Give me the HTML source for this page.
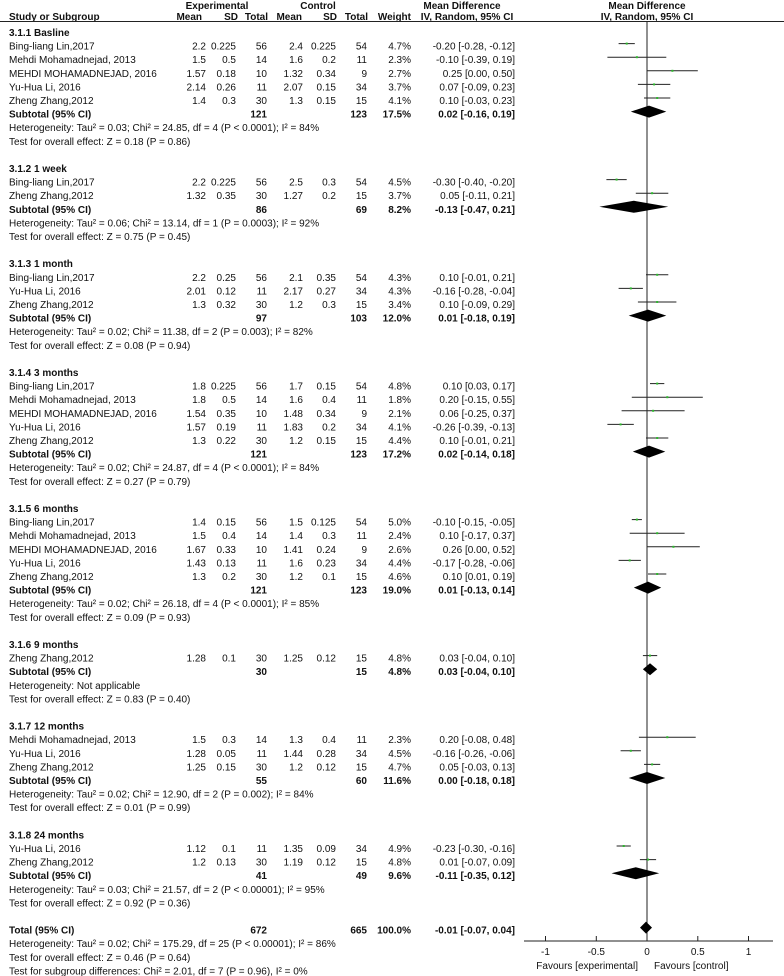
<!DOCTYPE html>
<html><head><meta charset="utf-8"><style>
html,body{margin:0;padding:0;background:#fff;}
svg{display:block;font-family:"Liberation Sans",Arial,sans-serif;font-size:10px;fill:#111;}
.r{text-anchor:end}.c{text-anchor:middle}.b{font-weight:bold}
line{stroke:#222;stroke-width:1}
.g{fill:#2db82d}
</style></head><body>
<svg width="784" height="976" viewBox="0 0 784 976">
<text class="b c" x="217" y="9">Experimental</text>
<text class="b c" x="318" y="9">Control</text>
<text class="b c" x="462" y="9">Mean Difference</text>
<text class="b c" x="647" y="9">Mean Difference</text>
<g class="b" transform="translate(0,20)"><text x="9">Study or Subgroup</text><text class="r" x="202">Mean</text><text class="r" x="238">SD</text><text class="r" x="268">Total</text><text class="r" x="302">Mean</text><text class="r" x="337">SD</text><text class="r" x="368">Total</text><text class="r" x="411">Weight</text><text class="c" x="467">IV, Random, 95% CI</text><text class="c" x="647">IV, Random, 95% CI</text></g>
<line x1="0" y1="21.5" x2="784" y2="21.5"/>
<line x1="647" y1="21" x2="647" y2="941"/>
<line x1="524" y1="941" x2="773" y2="941"/>
<line x1="545.5" y1="936" x2="545.5" y2="941"/><line x1="596.3" y1="936" x2="596.3" y2="941"/><line x1="647" y1="936" x2="647" y2="941"/><line x1="697.8" y1="936" x2="697.8" y2="941"/><line x1="748.5" y1="936" x2="748.5" y2="941"/>
<text class="c" x="545.5" y="955">-1</text><text class="c" x="596.3" y="955">-0.5</text><text class="c" x="647" y="955">0</text><text class="c" x="697.8" y="955">0.5</text><text class="c" x="748.5" y="955">1</text>
<text class="r" x="638" y="969">Favours [experimental]</text><text x="654" y="969">Favours [control]</text>

<!-- 3.1.1 -->
<text class="b" x="9" y="36">3.1.1 Basline</text>
<g transform="translate(0,49.6)"><text x="9">Bing-liang Lin,2017</text><text class="r" x="206">2.2</text><text class="r" x="236">0.225</text><text class="r" x="267">56</text><text class="r" x="303">2.4</text><text class="r" x="336">0.225</text><text class="r" x="367">54</text><text class="r" x="411">4.7%</text><text class="r" x="515">-0.20 [-0.28, -0.12]</text><line x1="618.6" x2="634.8" y1="-6" y2="-6"/><rect class="g" x="625.7" y="-7" width="2" height="2"/></g>
<g transform="translate(0,63.2)"><text x="9">Mehdi Mohamadnejad, 2013</text><text class="r" x="206">1.5</text><text class="r" x="236">0.5</text><text class="r" x="267">14</text><text class="r" x="303">1.6</text><text class="r" x="336">0.2</text><text class="r" x="367">11</text><text class="r" x="411">2.3%</text><text class="r" x="515">-0.10 [-0.39, 0.19]</text><line x1="607.4" x2="666.3" y1="-6" y2="-6"/><rect class="g" x="635.9" y="-7" width="2" height="2"/></g>
<g transform="translate(0,76.8)"><text x="9">MEHDI MOHAMADNEJAD, 2016</text><text class="r" x="206">1.57</text><text class="r" x="236">0.18</text><text class="r" x="267">10</text><text class="r" x="303">1.32</text><text class="r" x="336">0.34</text><text class="r" x="367">9</text><text class="r" x="411">2.7%</text><text class="r" x="515">0.25 [0.00, 0.50]</text><line x1="647" x2="697.8" y1="-6" y2="-6"/><rect class="g" x="671.4" y="-7" width="2" height="2"/></g>
<g transform="translate(0,90.4)"><text x="9">Yu-Hua Li, 2016</text><text class="r" x="206">2.14</text><text class="r" x="236">0.26</text><text class="r" x="267">11</text><text class="r" x="303">2.07</text><text class="r" x="336">0.15</text><text class="r" x="367">34</text><text class="r" x="411">3.7%</text><text class="r" x="515">0.07 [-0.09, 0.23]</text><line x1="637.9" x2="670.3" y1="-6" y2="-6"/><rect class="g" x="653.1" y="-7" width="2" height="2"/></g>
<g transform="translate(0,104)"><text x="9">Zheng Zhang,2012</text><text class="r" x="206">1.4</text><text class="r" x="236">0.3</text><text class="r" x="267">30</text><text class="r" x="303">1.3</text><text class="r" x="336">0.15</text><text class="r" x="367">15</text><text class="r" x="411">4.1%</text><text class="r" x="515">0.10 [-0.03, 0.23]</text><line x1="644" x2="670.3" y1="-6" y2="-6"/><rect class="g" x="656.2" y="-7" width="2" height="2"/></g>
<g class="b" transform="translate(0,117.6)"><text x="9">Subtotal (95% CI)</text><text class="r" x="267">121</text><text class="r" x="367">123</text><text class="r" x="411">17.5%</text><text class="r" x="515">0.02 [-0.16, 0.19]</text><polygon points="630.8,-6 649,-12 666.3,-6 649,0" fill="#000"/></g>
<text x="9" y="131.2">Heterogeneity: Tau² = 0.03; Chi² = 24.85, df = 4 (P &lt; 0.0001); I² = 84%</text>
<text x="9" y="144.8">Test for overall effect: Z = 0.18 (P = 0.86)</text>

<!-- 3.1.2 -->
<text class="b" x="9" y="172">3.1.2 1 week</text>
<g transform="translate(0,185.6)"><text x="9">Bing-liang Lin,2017</text><text class="r" x="206">2.2</text><text class="r" x="236">0.225</text><text class="r" x="267">56</text><text class="r" x="303">2.5</text><text class="r" x="336">0.3</text><text class="r" x="367">54</text><text class="r" x="411">4.5%</text><text class="r" x="515">-0.30 [-0.40, -0.20]</text><line x1="606.4" x2="626.7" y1="-6" y2="-6"/><rect class="g" x="615.6" y="-7" width="2" height="2"/></g>
<g transform="translate(0,199.2)"><text x="9">Zheng Zhang,2012</text><text class="r" x="206">1.32</text><text class="r" x="236">0.35</text><text class="r" x="267">30</text><text class="r" x="303">1.27</text><text class="r" x="336">0.2</text><text class="r" x="367">15</text><text class="r" x="411">3.7%</text><text class="r" x="515">0.05 [-0.11, 0.21]</text><line x1="635.8" x2="668.3" y1="-6" y2="-6"/><rect class="g" x="651.1" y="-7" width="2" height="2"/></g>
<g class="b" transform="translate(0,212.8)"><text x="9">Subtotal (95% CI)</text><text class="r" x="267">86</text><text class="r" x="367">69</text><text class="r" x="411">8.2%</text><text class="r" x="515">-0.13 [-0.47, 0.21]</text><polygon points="599.3,-6 633.8,-12 668.3,-6 633.8,0" fill="#000"/></g>
<text x="9" y="226.4">Heterogeneity: Tau² = 0.06; Chi² = 13.14, df = 1 (P = 0.0003); I² = 92%</text>
<text x="9" y="240">Test for overall effect: Z = 0.75 (P = 0.45)</text>

<!-- 3.1.3 -->
<text class="b" x="9" y="267.2">3.1.3 1 month</text>
<g transform="translate(0,280.8)"><text x="9">Bing-liang Lin,2017</text><text class="r" x="206">2.2</text><text class="r" x="236">0.25</text><text class="r" x="267">56</text><text class="r" x="303">2.1</text><text class="r" x="336">0.35</text><text class="r" x="367">54</text><text class="r" x="411">4.3%</text><text class="r" x="515">0.10 [-0.01, 0.21]</text><line x1="646" x2="668.3" y1="-6" y2="-6"/><rect class="g" x="656.2" y="-7" width="2" height="2"/></g>
<g transform="translate(0,294.4)"><text x="9">Yu-Hua Li, 2016</text><text class="r" x="206">2.01</text><text class="r" x="236">0.12</text><text class="r" x="267">11</text><text class="r" x="303">2.17</text><text class="r" x="336">0.27</text><text class="r" x="367">34</text><text class="r" x="411">4.3%</text><text class="r" x="515">-0.16 [-0.28, -0.04]</text><line x1="618.6" x2="642.9" y1="-6" y2="-6"/><rect class="g" x="629.8" y="-7" width="2" height="2"/></g>
<g transform="translate(0,308)"><text x="9">Zheng Zhang,2012</text><text class="r" x="206">1.3</text><text class="r" x="236">0.32</text><text class="r" x="267">30</text><text class="r" x="303">1.2</text><text class="r" x="336">0.3</text><text class="r" x="367">15</text><text class="r" x="411">3.4%</text><text class="r" x="515">0.10 [-0.09, 0.29]</text><line x1="637.9" x2="676.4" y1="-6" y2="-6"/><rect class="g" x="656.2" y="-7" width="2" height="2"/></g>
<g class="b" transform="translate(0,321.6)"><text x="9">Subtotal (95% CI)</text><text class="r" x="267">97</text><text class="r" x="367">103</text><text class="r" x="411">12.0%</text><text class="r" x="515">0.01 [-0.18, 0.19]</text><polygon points="628.7,-6 648,-12 666.3,-6 648,0" fill="#000"/></g>
<text x="9" y="335.2">Heterogeneity: Tau² = 0.02; Chi² = 11.38, df = 2 (P = 0.003); I² = 82%</text>
<text x="9" y="348.8">Test for overall effect: Z = 0.08 (P = 0.94)</text>

<!-- 3.1.4 -->
<text class="b" x="9" y="376">3.1.4 3 months</text>
<g transform="translate(0,389.6)"><text x="9">Bing-liang Lin,2017</text><text class="r" x="206">1.8</text><text class="r" x="236">0.225</text><text class="r" x="267">56</text><text class="r" x="303">1.7</text><text class="r" x="336">0.15</text><text class="r" x="367">54</text><text class="r" x="411">4.8%</text><text class="r" x="515">0.10 [0.03, 0.17]</text><line x1="650" x2="664.3" y1="-6" y2="-6"/><rect class="g" x="656.2" y="-7" width="2" height="2"/></g>
<g transform="translate(0,403.2)"><text x="9">Mehdi Mohamadnejad, 2013</text><text class="r" x="206">1.8</text><text class="r" x="236">0.5</text><text class="r" x="267">14</text><text class="r" x="303">1.6</text><text class="r" x="336">0.4</text><text class="r" x="367">11</text><text class="r" x="411">1.8%</text><text class="r" x="515">0.20 [-0.15, 0.55]</text><line x1="631.8" x2="702.8" y1="-6" y2="-6"/><rect class="g" x="666.3" y="-7" width="2" height="2"/></g>
<g transform="translate(0,416.8)"><text x="9">MEHDI MOHAMADNEJAD, 2016</text><text class="r" x="206">1.54</text><text class="r" x="236">0.35</text><text class="r" x="267">10</text><text class="r" x="303">1.48</text><text class="r" x="336">0.34</text><text class="r" x="367">9</text><text class="r" x="411">2.1%</text><text class="r" x="515">0.06 [-0.25, 0.37]</text><line x1="621.6" x2="684.6" y1="-6" y2="-6"/><rect class="g" x="652.1" y="-7" width="2" height="2"/></g>
<g transform="translate(0,430.4)"><text x="9">Yu-Hua Li, 2016</text><text class="r" x="206">1.57</text><text class="r" x="236">0.19</text><text class="r" x="267">11</text><text class="r" x="303">1.83</text><text class="r" x="336">0.2</text><text class="r" x="367">34</text><text class="r" x="411">4.1%</text><text class="r" x="515">-0.26 [-0.39, -0.13]</text><line x1="607.4" x2="633.8" y1="-6" y2="-6"/><rect class="g" x="619.6" y="-7" width="2" height="2"/></g>
<g transform="translate(0,444)"><text x="9">Zheng Zhang,2012</text><text class="r" x="206">1.3</text><text class="r" x="236">0.22</text><text class="r" x="267">30</text><text class="r" x="303">1.2</text><text class="r" x="336">0.15</text><text class="r" x="367">15</text><text class="r" x="411">4.4%</text><text class="r" x="515">0.10 [-0.01, 0.21]</text><line x1="646" x2="668.3" y1="-6" y2="-6"/><rect class="g" x="656.2" y="-7" width="2" height="2"/></g>
<g class="b" transform="translate(0,457.6)"><text x="9">Subtotal (95% CI)</text><text class="r" x="267">121</text><text class="r" x="367">123</text><text class="r" x="411">17.2%</text><text class="r" x="515">0.02 [-0.14, 0.18]</text><polygon points="632.8,-6 649,-12 665.3,-6 649,0" fill="#000"/></g>
<text x="9" y="471.2">Heterogeneity: Tau² = 0.02; Chi² = 24.87, df = 4 (P &lt; 0.0001); I² = 84%</text>
<text x="9" y="484.8">Test for overall effect: Z = 0.27 (P = 0.79)</text>

<!-- 3.1.5 -->
<text class="b" x="9" y="512">3.1.5 6 months</text>
<g transform="translate(0,525.6)"><text x="9">Bing-liang Lin,2017</text><text class="r" x="206">1.4</text><text class="r" x="236">0.15</text><text class="r" x="267">56</text><text class="r" x="303">1.5</text><text class="r" x="336">0.125</text><text class="r" x="367">54</text><text class="r" x="411">5.0%</text><text class="r" x="515">-0.10 [-0.15, -0.05]</text><line x1="631.8" x2="641.9" y1="-6" y2="-6"/><rect class="g" x="635.9" y="-7" width="2" height="2"/></g>
<g transform="translate(0,539.2)"><text x="9">Mehdi Mohamadnejad, 2013</text><text class="r" x="206">1.5</text><text class="r" x="236">0.4</text><text class="r" x="267">14</text><text class="r" x="303">1.4</text><text class="r" x="336">0.3</text><text class="r" x="367">11</text><text class="r" x="411">2.4%</text><text class="r" x="515">0.10 [-0.17, 0.37]</text><line x1="629.7" x2="684.6" y1="-6" y2="-6"/><rect class="g" x="656.2" y="-7" width="2" height="2"/></g>
<g transform="translate(0,552.8)"><text x="9">MEHDI MOHAMADNEJAD, 2016</text><text class="r" x="206">1.67</text><text class="r" x="236">0.33</text><text class="r" x="267">10</text><text class="r" x="303">1.41</text><text class="r" x="336">0.24</text><text class="r" x="367">9</text><text class="r" x="411">2.6%</text><text class="r" x="515">0.26 [0.00, 0.52]</text><line x1="647" x2="699.8" y1="-6" y2="-6"/><rect class="g" x="672.4" y="-7" width="2" height="2"/></g>
<g transform="translate(0,566.4)"><text x="9">Yu-Hua Li, 2016</text><text class="r" x="206">1.43</text><text class="r" x="236">0.13</text><text class="r" x="267">11</text><text class="r" x="303">1.6</text><text class="r" x="336">0.23</text><text class="r" x="367">34</text><text class="r" x="411">4.4%</text><text class="r" x="515">-0.17 [-0.28, -0.06]</text><line x1="618.6" x2="640.9" y1="-6" y2="-6"/><rect class="g" x="628.7" y="-7" width="2" height="2"/></g>
<g transform="translate(0,580)"><text x="9">Zheng Zhang,2012</text><text class="r" x="206">1.3</text><text class="r" x="236">0.2</text><text class="r" x="267">30</text><text class="r" x="303">1.2</text><text class="r" x="336">0.1</text><text class="r" x="367">15</text><text class="r" x="411">4.6%</text><text class="r" x="515">0.10 [0.01, 0.19]</text><line x1="648" x2="666.3" y1="-6" y2="-6"/><rect class="g" x="656.2" y="-7" width="2" height="2"/></g>
<g class="b" transform="translate(0,593.6)"><text x="9">Subtotal (95% CI)</text><text class="r" x="267">121</text><text class="r" x="367">123</text><text class="r" x="411">19.0%</text><text class="r" x="515">0.01 [-0.13, 0.14]</text><polygon points="633.8,-6 648,-12 661.2,-6 648,0" fill="#000"/></g>
<text x="9" y="607.2">Heterogeneity: Tau² = 0.02; Chi² = 26.18, df = 4 (P &lt; 0.0001); I² = 85%</text>
<text x="9" y="620.8">Test for overall effect: Z = 0.09 (P = 0.93)</text>

<!-- 3.1.6 -->
<text class="b" x="9" y="648">3.1.6 9 months</text>
<g transform="translate(0,661.6)"><text x="9">Zheng Zhang,2012</text><text class="r" x="206">1.28</text><text class="r" x="236">0.1</text><text class="r" x="267">30</text><text class="r" x="303">1.25</text><text class="r" x="336">0.12</text><text class="r" x="367">15</text><text class="r" x="411">4.8%</text><text class="r" x="515">0.03 [-0.04, 0.10]</text><line x1="642.9" x2="657.2" y1="-6" y2="-6"/><rect class="g" x="649" y="-7" width="2" height="2"/></g>
<g class="b" transform="translate(0,675.2)"><text x="9">Subtotal (95% CI)</text><text class="r" x="267">30</text><text class="r" x="367">15</text><text class="r" x="411">4.8%</text><text class="r" x="515">0.03 [-0.04, 0.10]</text><polygon points="642.9,-6 650,-12 657.2,-6 650,0" fill="#000"/></g>
<text x="9" y="688.8">Heterogeneity: Not applicable</text>
<text x="9" y="702.4">Test for overall effect: Z = 0.83 (P = 0.40)</text>

<!-- 3.1.7 -->
<text class="b" x="9" y="729.6">3.1.7 12 months</text>
<g transform="translate(0,743.2)"><text x="9">Mehdi Mohamadnejad, 2013</text><text class="r" x="206">1.5</text><text class="r" x="236">0.3</text><text class="r" x="267">14</text><text class="r" x="303">1.3</text><text class="r" x="336">0.4</text><text class="r" x="367">11</text><text class="r" x="411">2.3%</text><text class="r" x="515">0.20 [-0.08, 0.48]</text><line x1="638.9" x2="695.7" y1="-6" y2="-6"/><rect class="g" x="666.3" y="-7" width="2" height="2"/></g>
<g transform="translate(0,756.8)"><text x="9">Yu-Hua Li, 2016</text><text class="r" x="206">1.28</text><text class="r" x="236">0.05</text><text class="r" x="267">11</text><text class="r" x="303">1.44</text><text class="r" x="336">0.28</text><text class="r" x="367">34</text><text class="r" x="411">4.5%</text><text class="r" x="515">-0.16 [-0.26, -0.06]</text><line x1="620.6" x2="640.9" y1="-6" y2="-6"/><rect class="g" x="629.8" y="-7" width="2" height="2"/></g>
<g transform="translate(0,770.4)"><text x="9">Zheng Zhang,2012</text><text class="r" x="206">1.25</text><text class="r" x="236">0.15</text><text class="r" x="267">30</text><text class="r" x="303">1.2</text><text class="r" x="336">0.12</text><text class="r" x="367">15</text><text class="r" x="411">4.7%</text><text class="r" x="515">0.05 [-0.03, 0.13]</text><line x1="644" x2="660.2" y1="-6" y2="-6"/><rect class="g" x="651.1" y="-7" width="2" height="2"/></g>
<g class="b" transform="translate(0,784)"><text x="9">Subtotal (95% CI)</text><text class="r" x="267">55</text><text class="r" x="367">60</text><text class="r" x="411">11.6%</text><text class="r" x="515">0.00 [-0.18, 0.18]</text><polygon points="628.7,-6 647,-12 665.3,-6 647,0" fill="#000"/></g>
<text x="9" y="797.6">Heterogeneity: Tau² = 0.02; Chi² = 12.90, df = 2 (P = 0.002); I² = 84%</text>
<text x="9" y="811.2">Test for overall effect: Z = 0.01 (P = 0.99)</text>

<!-- 3.1.8 -->
<text class="b" x="9" y="838.4">3.1.8 24 months</text>
<g transform="translate(0,852)"><text x="9">Yu-Hua Li, 2016</text><text class="r" x="206">1.12</text><text class="r" x="236">0.1</text><text class="r" x="267">11</text><text class="r" x="303">1.35</text><text class="r" x="336">0.09</text><text class="r" x="367">34</text><text class="r" x="411">4.9%</text><text class="r" x="515">-0.23 [-0.30, -0.16]</text><line x1="616.6" x2="630.8" y1="-6" y2="-6"/><rect class="g" x="622.7" y="-7" width="2" height="2"/></g>
<g transform="translate(0,865.6)"><text x="9">Zheng Zhang,2012</text><text class="r" x="206">1.2</text><text class="r" x="236">0.13</text><text class="r" x="267">30</text><text class="r" x="303">1.19</text><text class="r" x="336">0.12</text><text class="r" x="367">15</text><text class="r" x="411">4.8%</text><text class="r" x="515">0.01 [-0.07, 0.09]</text><line x1="639.9" x2="656.1" y1="-6" y2="-6"/><rect class="g" x="647" y="-7" width="2" height="2"/></g>
<g class="b" transform="translate(0,879.2)"><text x="9">Subtotal (95% CI)</text><text class="r" x="267">41</text><text class="r" x="367">49</text><text class="r" x="411">9.6%</text><text class="r" x="515">-0.11 [-0.35, 0.12]</text><polygon points="611.5,-6 635.8,-12 659.2,-6 635.8,0" fill="#000"/></g>
<text x="9" y="892.8">Heterogeneity: Tau² = 0.03; Chi² = 21.57, df = 2 (P &lt; 0.00001); I² = 95%</text>
<text x="9" y="906.4">Test for overall effect: Z = 0.92 (P = 0.36)</text>

<!-- Total -->
<g class="b" transform="translate(0,933.6)"><text x="9">Total (95% CI)</text><text class="r" x="267">672</text><text class="r" x="367">665</text><text class="r" x="411">100.0%</text><text class="r" x="515">-0.01 [-0.07, 0.04]</text><polygon points="640,-6 646,-12 652,-6 646,0" fill="#000"/></g>
<text x="9" y="947.2">Heterogeneity: Tau² = 0.02; Chi² = 175.29, df = 25 (P &lt; 0.00001); I² = 86%</text>
<text x="9" y="960.8">Test for overall effect: Z = 0.46 (P = 0.64)</text>
<text x="9" y="974.4">Test for subgroup differences: Chi² = 2.01, df = 7 (P = 0.96), I² = 0%</text>
</svg>
</body></html>
